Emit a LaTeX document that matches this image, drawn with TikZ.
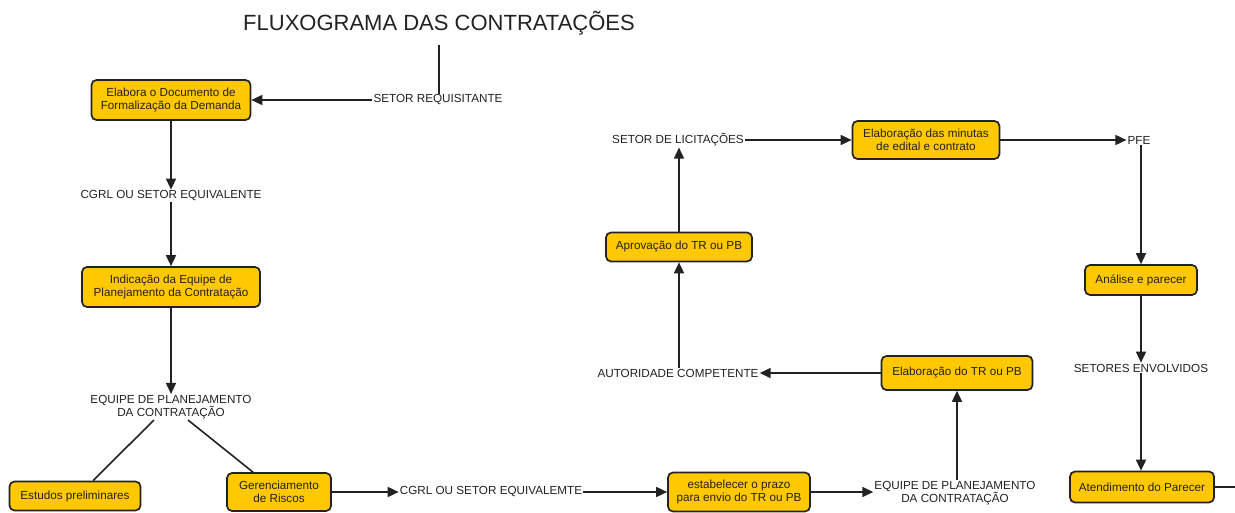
\documentclass[tikz,border=0pt]{standalone}
\usepackage{fontspec}
\setmainfont{Liberation Sans}
\usetikzlibrary{arrows.meta,calc}
\definecolor{boxfill}{HTML}{FFC800}
\definecolor{ink}{HTML}{222222}
\begin{document}
\begin{tikzpicture}[x=1pt,y=-1pt,
  every node/.style={font=\fontsize{11.7}{13}\selectfont, text=ink, align=center},
  box/.style={draw=ink, line width=1.7pt, fill=boxfill, rounded corners=5pt, inner sep=0pt},
  lbl/.style={inner sep=1pt},
  conn/.style={line width=1.6pt, draw=ink},
  arr/.style={conn, -{Triangle[length=11pt,width=10pt]}}
]
\useasboundingbox (0,0) rectangle (1235,513);
\node (title) at (439,23) {\fontsize{22}{26}\selectfont FLUXOGRAMA DAS CONTRATAÇÕES};
\coordinate (top) at (439,45);
\node[lbl] (req) at (438,100) {SETOR REQUISITANTE};
\node[box, minimum width=159pt, minimum height=40pt] (b1) at (171,100) {Elabora o Documento de\\Formalização da Demanda};
\node[lbl] (cgrl1) at (171,196) {CGRL OU SETOR EQUIVALENTE};
\node[box, minimum width=178pt, minimum height=40pt] (b2) at (171,287) {Indicação da Equipe de\\Planejamento da Contratação};
\node[lbl] (equipe1) at (171,407) {EQUIPE DE PLANEJAMENTO\\DA CONTRATAÇÃO};
\node[box, minimum width=131pt, minimum height=29pt] (est) at (75,496) {Estudos preliminares};
\node[box, minimum width=104pt, minimum height=38pt] (ger) at (279,492) {Gerenciamento\\de Riscos};
\node[lbl] (cgrl2) at (491,492) {CGRL OU SETOR EQUIVALEMTE};
\node[box, minimum width=142pt, minimum height=39pt] (prazo) at (739,492) {estabelecer o prazo\\para envio do TR ou PB};
\node[lbl] (equipe2) at (955,493) {EQUIPE DE PLANEJAMENTO\\DA CONTRATAÇÃO};
\node[box, minimum width=151pt, minimum height=34pt] (tr) at (957,373) {Elaboração do TR ou PB};
\node[lbl] (aut) at (678,373) {AUTORIDADE COMPETENTE};
\node[box, minimum width=146pt, minimum height=29pt] (apr) at (679,247) {Aprovação do TR ou PB};
\node[lbl] (lic) at (678,140) {SETOR DE LICITAÇÕES};
\node[box, minimum width=147pt, minimum height=38pt] (min) at (926,140) {Elaboração das minutas\\de edital e contrato};
\node[lbl] (pfe) at (1139,140) {PFE};
\node[box, minimum width=112pt, minimum height=30pt] (ana) at (1141,280) {Análise e parecer};
\node[lbl] (setenv) at (1141,368) {SETORES ENVOLVIDOS};
\node[box, minimum width=144pt, minimum height=31pt] (ate) at (1142,487) {Atendimento do Parecer};
\coordinate (endr) at (1235,487);

\draw[conn] (top) -- (top |- req.north);
\draw[arr] (req.west) -- (b1.east);
\draw[arr] (b1.south) -- (cgrl1.north);
\draw[arr] (cgrl1.south) -- (b2.north);
\draw[arr] (b2.south) -- (equipe1.north);
\draw[conn] ([xshift=-17pt]equipe1.south) -- ([xshift=18pt]est.north);
\draw[conn] ([xshift=17pt]equipe1.south) -- ([xshift=-26pt]ger.north);
\draw[arr] (ger.east) -- (cgrl2.west);
\draw[arr] (cgrl2.east) -- (prazo.west);
\draw[arr] (prazo.east) -- (equipe2.west |- prazo.east);
\draw[arr] (equipe2.north -| tr.south) -- (tr.south);
\draw[arr] (tr.west) -- (aut.east);
\draw[arr] (aut.north -| apr.south) -- (apr.south);
\draw[arr] (apr.north) -- (lic.south -| apr.north);
\draw[arr] (lic.east) -- (min.west);
\draw[arr] (min.east) -- (pfe.west);
\draw[arr] (pfe.south -| ana.north) -- (ana.north);
\draw[arr] (ana.south) -- (setenv.north -| ana.south);
\draw[arr] (setenv.south -| ana.south) -- (ate.north -| ana.south);
\draw[conn] (ate.east) -- (endr);
\end{tikzpicture}
\end{document}
